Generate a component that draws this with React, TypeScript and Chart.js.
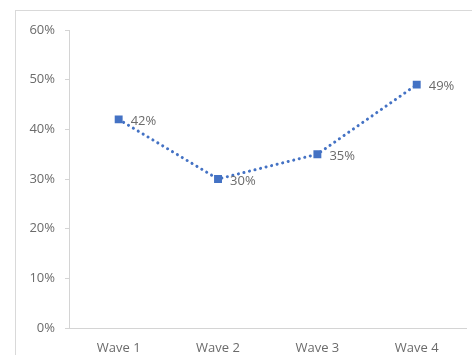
import React, { useEffect, useRef } from "react";
import { Chart, registerables } from "chart.js";

Chart.register(...registerables);

const categories: string[] = ["Wave 1", "Wave 2", "Wave 3", "Wave 4"];
const values: number[] = [42, 30, 35, 49];
const yMin = 0;
const yMax = 60;
const yStep = 10;

const LINE_COLOR = "#4472C4";
const TEXT_COLOR = "#6b6b6b";
const AXIS_COLOR = "#d4d4d4";
const FONT_FAMILY = "'Open Sans', 'Noto Sans', sans-serif";

const dataLabelPlugin = {
  id: "dataLabels",
  afterDatasetsDraw(chart: any) {
    const ctx = chart.ctx;
    const meta = chart.getDatasetMeta(0);
    const ds = chart.data.datasets[0];
    ctx.save();
    ctx.font = `13px ${FONT_FAMILY}`;
    ctx.fillStyle = TEXT_COLOR;
    ctx.textAlign = "left";
    ctx.textBaseline = "middle";
    meta.data.forEach((pt: any, i: number) => {
      ctx.fillText(`${ds.data[i]}%`, pt.x + 12, pt.y + 2);
    });
    ctx.restore();
  },
};

export default function App() {
  const ref = useRef<HTMLCanvasElement | null>(null);

  useEffect(() => {
    if (!ref.current) return;
    const chart = new Chart(ref.current, {
      type: "line",
      data: {
        labels: categories,
        datasets: [
          {
            data: values,
            borderColor: LINE_COLOR,
            backgroundColor: LINE_COLOR,
            borderWidth: 3,
            borderDash: [0.1, 5.6],
            borderCapStyle: "round",
            pointStyle: "rect",
            pointRadius: 5.6,
            pointBorderWidth: 0,
            pointBackgroundColor: LINE_COLOR,
            tension: 0,
            fill: false,
          },
        ],
      },
      options: {
        animation: false,
        responsive: false,
        layout: { padding: { top: 30, right: 5, left: 0, bottom: 0 } },
        plugins: {
          legend: { display: false },
          tooltip: { enabled: false },
          title: { display: false },
        },
        scales: {
          x: {
            type: "category",
            offset: true,
            grid: { display: false, drawTicks: false },
            border: { display: true, color: AXIS_COLOR, width: 1 },
            ticks: {
              color: TEXT_COLOR,
              font: { family: FONT_FAMILY, size: 13 },
              padding: 12,
              maxRotation: 0,
            },
            afterFit(scale: any) {
              scale.height = 27;
            },
          },
          y: {
            min: yMin,
            max: yMax,
            grid: {
              display: true,
              drawOnChartArea: false,
              drawTicks: true,
              tickLength: 4,
              color: AXIS_COLOR,
            },
            border: { display: true, color: AXIS_COLOR, width: 1 },
            ticks: {
              stepSize: yStep,
              color: TEXT_COLOR,
              font: { family: FONT_FAMILY, size: 13 },
              padding: 10,
              callback: (v: any) => `${v}%`,
            },
            afterFit(scale: any) {
              scale.width = 69;
            },
          },
        },
      },
      plugins: [dataLabelPlugin],
    });
    return () => chart.destroy();
  }, []);

  return (
    <div style={{ position: "fixed", left: 0, top: 0, width: 472, height: 355, background: "#ffffff", overflow: "hidden" }}>
      <canvas ref={ref} width={472} height={355} style={{ position: "absolute", left: 0, top: 0 }} />
      <div
        style={{
          position: "absolute",
          left: 15,
          top: 10,
          width: 457,
          height: 345,
          borderLeft: "1px solid #d9d9d9",
          borderTop: "1px solid #d9d9d9",
          boxSizing: "border-box",
          pointerEvents: "none",
        }}
      />
      <div style={{ position: "absolute", left: 468, top: 11, width: 4, height: 344, background: "#ffffff" }} />
    </div>
  );
}
